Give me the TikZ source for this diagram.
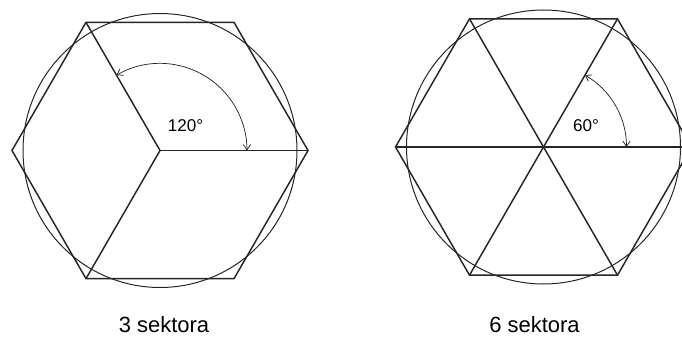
\documentclass[tikz,border=0pt]{standalone}
\usepackage{fontspec}
\setmainfont{Liberation Sans}
\usetikzlibrary{arrows.meta, calc}

\begin{document}
\begin{tikzpicture}[
    x=0.75pt, y=0.75pt,
    edge/.style={line width=1.1pt, draw=black!85, line join=miter},
    rim/.style={line width=0.75pt, draw=black!85},
    sweep/.style={{Straight Barb[length=4pt,width=5.5pt]}-{Straight Barb[length=4pt,width=5.5pt]}, line width=0.55pt, draw=black!85},
    angle/.style={font=\fontsize{12.8}{15}\selectfont, inner sep=0pt},
    caption/.style={font=\fontsize{16.5}{19}\selectfont, inner sep=0pt}
]
    \useasboundingbox (0,0) rectangle (682,336);
    \clip (0,0) rectangle (682,336);

    % 3 sektora
    \coordinate (l_c) at (160,185.5);
    \foreach \a in {0,60,...,300}
        \coordinate (l_\a) at ($(l_c)+(\a:148)$);
    \draw[rim] (l_c) circle (137);
    \draw[edge] (l_0) -- (l_60) -- (l_120) -- (l_180) -- (l_240) -- (l_300) -- cycle;
    \draw[edge] (l_c) -- (l_0);
    \draw[edge] (l_c) -- (l_120);
    \draw[edge] (l_c) -- (l_240);
    \draw[sweep] ($(l_c)+(120:87)$) arc[start angle=120, end angle=0, radius=87];
    \node[angle] (l_ang) at (185.5,210) {120°};
    \node[caption] (l_cap) at (164,11) {3 sektora};

    % 6 sektora
    \coordinate (r_c) at (543.5,189);
    \foreach \a in {0,60,...,300}
        \coordinate (r_\a) at ($(r_c)+(\a:148)$);
    \draw[rim] (r_c) circle (137);
    \draw[edge] (r_0) -- (r_60) -- (r_120) -- (r_180) -- (r_240) -- (r_300) -- cycle;
    \draw[edge] (r_180) -- (r_0);
    \draw[edge] (r_120) -- (r_300);
    \draw[edge] (r_60) -- (r_240);
    \draw[sweep] ($(r_c)+(60:83)$) arc[start angle=60, end angle=0, radius=83];
    \node[angle] (r_ang) at (586,210) {60°};
    \node[caption] (r_cap) at (534.5,11) {6 sektora};

\end{tikzpicture}
\end{document}
